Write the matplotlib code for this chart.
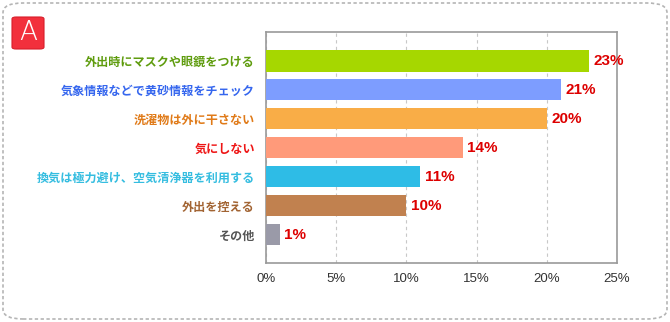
import matplotlib
matplotlib.use("Agg")
import matplotlib.pyplot as plt
from matplotlib.patches import FancyBboxPatch
from matplotlib.ticker import FixedLocator

plt.rcParams['font.family'] = ['Noto Sans CJK JP', 'DejaVu Sans']

# 回答データ (%)
labels = ['外出時にマスクや眼鏡をつける', '気象情報などで黄砂情報をチェック', '洗濯物は外に干さない',
          '気にしない', '換気は極力避け、空気清浄器を利用する', '外出を控える', 'その他']
values = [23, 21, 20, 14, 11, 10, 1]
bar_colors = ['#a6d700', '#7d9dff', '#f9ad47', '#ff9a7a', '#2ebce6', '#c1814f', '#9a9aa8']
label_colors = ['#5f9c0e', '#3566ee', '#e07a18', '#ee1515', '#35bde0', '#a26433', '#555555']
xticks = [0, 5, 10, 15, 20, 25]

fig = plt.figure(figsize=(6.7, 3.22), dpi=100)

# 外枠 (点線の角丸)
frame = FancyBboxPatch((3 / 670, 3 / 322), 664 / 670, 316 / 322,
                       boxstyle="round,pad=0,rounding_size=0.03",
                       transform=fig.transFigure, fill=False,
                       edgecolor='#b5b5b5', linewidth=1.2, linestyle=(0, (2, 1.5)))
fig.patches.append(frame)

# 「A」マーク
badge = FancyBboxPatch((12 / 670, (322 - 49) / 322), 32 / 670, 32 / 322,
                       boxstyle="round,pad=0,rounding_size=0.006",
                       transform=fig.transFigure, facecolor='#f2303c',
                       edgecolor='#d81e2a', linewidth=0.8)
fig.patches.append(badge)
fig.text(28 / 670, (322 - 33) / 322, 'A', color='white', fontsize=19,
         ha='center', va='center', family=['DejaVu Sans'],
         fontweight='ultralight')

ax = fig.add_axes([266 / 670, (322 - 263) / 322, 351 / 670, 231 / 322])

pos = list(range(len(values)))
ax.barh(pos, values, height=0.73, color=bar_colors, zorder=3)
for p, v in zip(pos, values):
    ax.text(v + 0.3, p, f'{v}%', color='#dd0000', fontsize=11, fontweight='bold',
            va='center', ha='left', family=['Liberation Sans', 'DejaVu Sans'], zorder=4)

ax.set_xlim(0, 25)
ax.set_ylim(6.98, -1.0)
ax.xaxis.set_major_locator(FixedLocator(xticks))
ax.set_xticklabels([f'{t}%' for t in xticks], family=['Liberation Sans', 'DejaVu Sans'],
                   fontsize=9.5, color='#333333')
ax.set_yticks(pos)
ax.set_yticklabels(labels, fontsize=8.7, fontweight='bold')
for t, c in zip(ax.get_yticklabels(), label_colors):
    t.set_color(c)
ax.tick_params(axis='x', length=0, pad=7)
ax.tick_params(axis='y', length=0, pad=8)

ax.grid(axis='x', color='#c8c8c8', linestyle=(0, (3, 3)), linewidth=0.8, zorder=0)
for s in ax.spines.values():
    s.set_color('#999999')
    s.set_linewidth(1.2)

fig.savefig('out.png', dpi=100)
